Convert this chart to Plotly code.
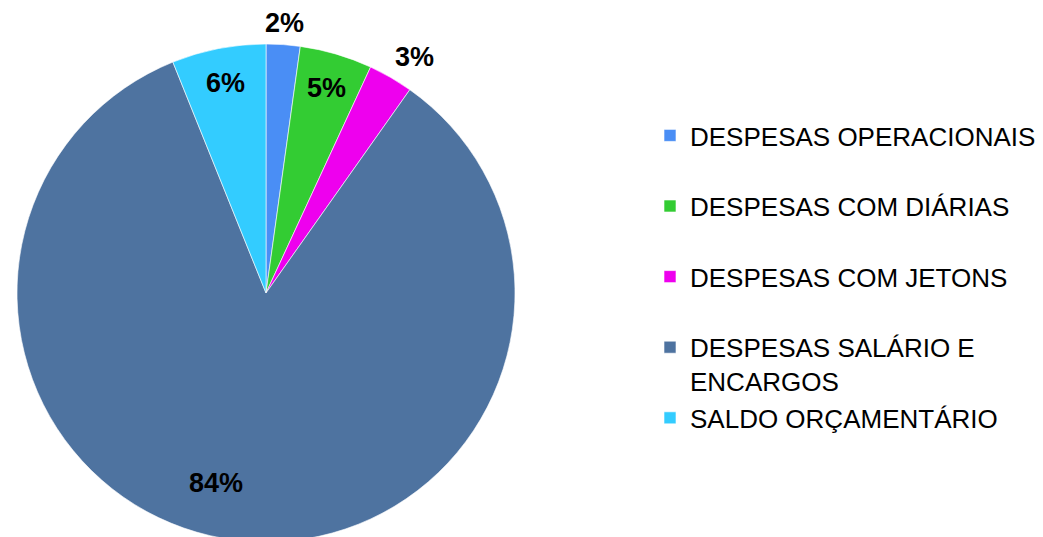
import math
import plotly.graph_objects as go

# Slice data, clockwise from 12 o'clock
categories = [
    "DESPESAS OPERACIONAIS",
    "DESPESAS COM DIÁRIAS",
    "DESPESAS COM JETONS",
    "DESPESAS SALÁRIO E<br>ENCARGOS",
    "SALDO ORÇAMENTÁRIO",
]
shares = [2.2, 4.7, 2.9, 84.1, 6.1]
slice_colors = ["#4A8EF5", "#33CC33", "#EE00EE", "#4E73A0", "#33CCFF"]

# label placement (style): radius factor and small angular nudge per slice
label_radius = [1.085, 0.86, 1.12, 0.79, 0.86]
label_nudge_deg = [0, 0, 2, 8, 0]

W, H = 1043, 537
FONT = "Arial, 'Liberation Sans', sans-serif"
BODY = 8  # the page's default body margin shifts the figure by this much

# pie geometry in figure pixels
cx, cy, r = 266 - BODY, 293 - BODY, 249

# legend entries padded to two lines so the spacing matches the original
legend_labels = []
for i, c in enumerate(categories):
    n_lines = c.count("<br>") + 1
    pad = "<br> " * (2 - n_lines) if i < len(categories) - 1 else ""
    legend_labels.append(c + pad)

fig = go.Figure(
    go.Pie(
        labels=legend_labels,
        values=shares,
        sort=False,
        direction="clockwise",
        rotation=0,
        marker={"colors": slice_colors, "line": {"color": "white", "width": 0.6}},
        textinfo="none",
        domain={
            "x": [(cx - r) / W, (cx + r) / W],
            "y": [(H - cy - r) / H, (H - cy + r) / H],
        },
        hoverinfo="label+percent",
    )
)

# percentage labels at each slice's mid-angle
total = sum(shares)
cum = 0.0
for v, k, nudge in zip(shares, label_radius, label_nudge_deg):
    mid = (cum + v / 2) / total * 360 + nudge
    cum += v
    px = cx + k * r * math.sin(math.radians(mid))
    py = cy - k * r * math.cos(math.radians(mid))
    fig.add_annotation(
        x=px / W,
        y=1 - py / H,
        xref="paper",
        yref="paper",
        text=f"<b>{round(v / total * 100):.0f}%</b>",
        showarrow=False,
        font={"family": FONT, "size": 27, "color": "black"},
        xanchor="center",
        yanchor="middle",
    )

fig.update_layout(
    width=W,
    height=H,
    margin={"l": 0, "r": 0, "t": 0, "b": 0},
    paper_bgcolor="white",
    plot_bgcolor="white",
    font={"family": FONT, "color": "black"},
    legend={
        "x": 642 / W,
        "y": 1 - 104 / H,
        "xanchor": "left",
        "yanchor": "top",
        "valign": "top",
        "font": {"family": FONT, "size": 26, "color": "black"},
        "bgcolor": "rgba(0,0,0,0)",
    },
)

fig.write_html("out.html")
